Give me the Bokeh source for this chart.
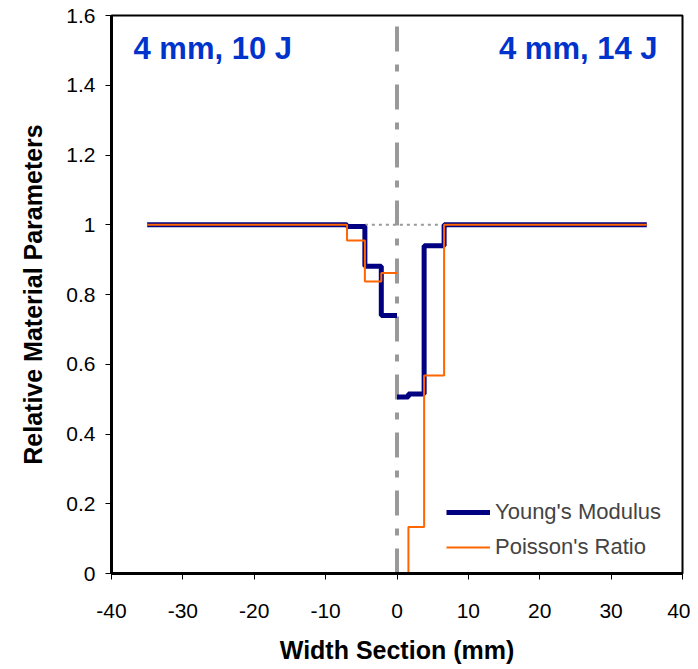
from bokeh.plotting import figure
from bokeh.models import (Label, Legend, LegendItem, FixedTicker, CustomJSTickFormatter)
from bokeh.embed import file_html
from bokeh.resources import INLINE

# ---- data ----
young_left_x = [-35, -7, -4.5, -2.2, 0]
young_left_y = [1.0, 0.995, 0.881, 0.74, 0.74]
young_right_x = [0, 1.6, 3.8, 6.6, 35]
young_right_y = [0.506, 0.515, 0.94, 1.0, 1.0]

poisson_left_x = [-35, -7, -4.5, -2.2, 0]
poisson_left_y = [1.0, 0.955, 0.837, 0.862, 0.862]
poisson_right_x = [0, 1.6, 3.8, 6.6, 35]
poisson_right_y = [0.0, 0.133, 0.568, 1.0, 1.0]

ref_line_x = [-4.5, 6.6]
ref_line_y = [1.0, 1.0]
center_x = [0, 0]
center_y = [1.6, 0]

x_ticks = [-40, -30, -20, -10, 0, 10, 20, 30, 40]
y_ticks = [0, 0.2, 0.4, 0.6, 0.8, 1.0, 1.2, 1.4, 1.6]

left_title = "4 mm, 10 J"
right_title = "4 mm, 14 J"

FONT = "Liberation Sans"
BLUE = "#000080"
ORANGE = "#ff6600"

p = figure(width=690, height=661, output_backend="svg", toolbar_location=None,
           x_range=(-40, 40), y_range=(0, 1.6),
           min_border_left=111, min_border_right=8, min_border_top=15, min_border_bottom=88)
p.frame_width = 571
p.frame_height = 558
p.xgrid.visible = False
p.ygrid.visible = False
p.outline_line_color = "black"
p.outline_line_width = 2
p.background_fill_color = "white"
p.border_fill_color = "white"

for ax in (p.xaxis[0], p.yaxis[0]):
    ax.axis_line_width = 3
    ax.axis_line_color = "black"
    ax.major_tick_out = 6
    ax.major_tick_in = 0
    ax.major_tick_line_color = "black"
    ax.minor_tick_line_color = None
    ax.major_label_text_font = FONT
    ax.major_label_text_font_size = "21px"
    ax.major_label_text_color = "black"
    ax.axis_label_text_font = FONT
    ax.axis_label_text_font_style = "bold"
    ax.axis_label_text_font_size = "25px"
    ax.axis_label_text_color = "black"

p.xaxis.ticker = FixedTicker(ticks=x_ticks)
p.yaxis.ticker = FixedTicker(ticks=y_ticks)
p.xaxis.formatter = CustomJSTickFormatter(code="return tick.toString();")
p.yaxis.formatter = CustomJSTickFormatter(code="return Number(tick.toFixed(1)).toString();")
p.xaxis.axis_label = "Width Section (mm)"
p.yaxis.axis_label = "Relative Material Parameters"
p.xaxis.major_label_standoff = 24
p.xaxis.axis_label_standoff = 15
p.yaxis.major_label_standoff = 10
p.yaxis.axis_label_standoff = 16

# center dash-dot line and reference dotted line
p.line(center_x, center_y, line_color="#999999", line_width=4,
       line_dash="25 13 7 13", line_dash_offset=47)
p.line(ref_line_x, ref_line_y, line_color="#999999", line_width=2, line_dash="3 4")

yl = p.step(young_left_x, young_left_y, mode="after", line_color=BLUE, line_width=5)
p.step(young_right_x, young_right_y, mode="after", line_color=BLUE, line_width=5)
pl = p.step(poisson_left_x, poisson_left_y, mode="after", line_color=ORANGE, line_width=2)
p.step(poisson_right_x, poisson_right_y, mode="after", line_color=ORANGE, line_width=2)

legend = Legend(items=[LegendItem(label="Young's Modulus", renderers=[yl]),
                       LegendItem(label="Poisson's Ratio", renderers=[pl])],
                location=(335, 13), border_line_color=None, background_fill_alpha=0,
                padding=0, margin=0, spacing=9, glyph_width=44, glyph_height=20,
                label_height=20, label_standoff=5,
                label_text_font=FONT, label_text_font_size="22px")
p.add_layout(legend)

p.add_layout(Label(x=22, y=525, x_units="screen", y_units="screen", text=left_title,
                   text_font=FONT, text_font_style="bold", text_font_size="31px",
                   text_color="#0033cc", text_baseline="alphabetic"))
p.add_layout(Label(x=546, y=525, x_units="screen", y_units="screen", text=right_title,
                   text_font=FONT, text_font_style="bold", text_font_size="31px",
                   text_color="#0033cc", text_baseline="alphabetic", text_align="right"))

open("out.html", "w").write(file_html(p, INLINE))
